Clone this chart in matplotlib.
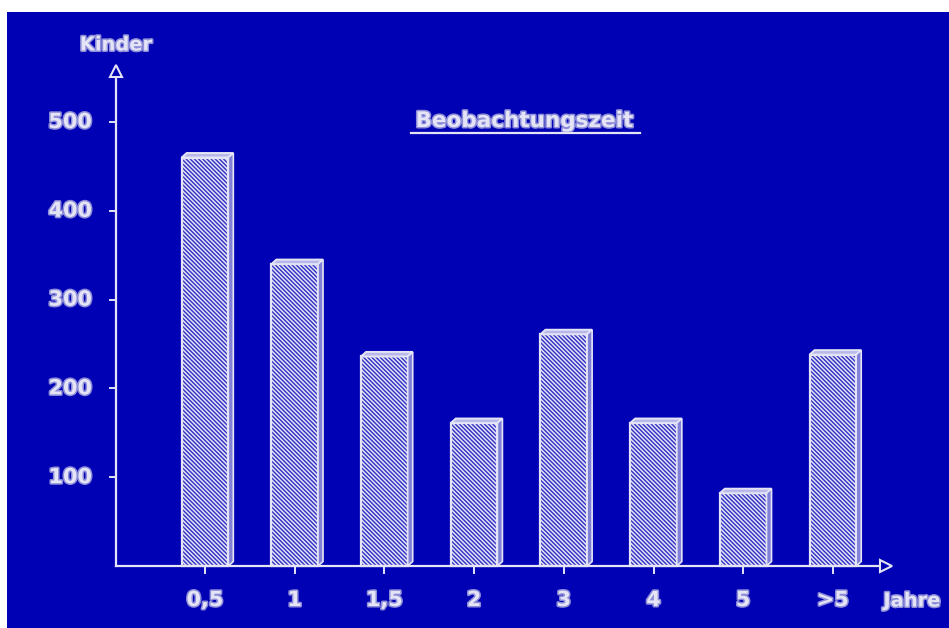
import matplotlib.pyplot as plt
from matplotlib.patches import Rectangle, Polygon
import matplotlib.patheffects as pe

# children per observation period
categories = ["0,5", "1", "1,5", "2", "3", "4", "5", ">5"]
kinder     = [460, 340, 236, 161, 261, 161, 82, 238]
yticks     = [100, 200, 300, 400, 500]

BLUE  = "#0000b4"
LIGHT = "#e4e4f6"

# pixel layout of the slide
W, H   = 949, 628
X0, PX = 205, 89.7      # first category position, px per category
Y0, PY = 566, 0.888     # baseline, px per child

fig = plt.figure(figsize=(W / 100, H / 100), dpi=100, facecolor="white")
ax = fig.add_axes([0, 0, 1, 1])
ax.set_xlim(-X0 / PX, (W - X0) / PX)
ax.set_ylim((Y0 - H) / PY, Y0 / PY)
ax.axis("off")
ax.add_patch(Rectangle((7 / W, 0), 1, (H - 12) / H, transform=ax.transAxes,
                       facecolor=BLUE, edgecolor="none", zorder=0))

plt.rcParams["hatch.color"] = "#d0d0f0"
plt.rcParams["hatch.linewidth"] = 1.1
glow = [pe.withStroke(linewidth=2.2, foreground="#8c8cd8")]
txt = dict(color=LIGHT, fontweight="bold", path_effects=glow)

# bars with a small 3d top and side
w  = 0.52
dx = 5 / PX
dy = 4.5 / PY
for i, v in enumerate(kinder):
    l, r = i - w / 2, i + w / 2
    ax.add_patch(Rectangle((l, 0), w, v, facecolor="#3030c4", edgecolor=LIGHT,
                           hatch="\\" * 8, lw=1.6, zorder=3))
    ax.add_patch(Polygon([(l, v), (l + dx, v + dy), (r + dx, v + dy), (r, v)],
                         facecolor="#b8b8ea", edgecolor=LIGHT, lw=1.4, zorder=3))
    ax.add_patch(Polygon([(r, 0), (r + dx, dy), (r + dx, v + dy), (r, v)],
                         facecolor="#8080d8", edgecolor=LIGHT, lw=1.2, zorder=3))

# axes with open arrowheads
xa = (116 - X0) / PX
ax.plot([xa, xa], [0, (Y0 - 77) / PY], color=LIGHT, lw=1.6, zorder=4)
ax.plot(xa, (Y0 - 71) / PY, marker="^", ms=9, mfc=BLUE, mec=LIGHT, mew=1.5, zorder=5)
ax.plot([xa, (880 - X0) / PX], [0, 0], color=LIGHT, lw=1.6, zorder=4)
ax.plot((886 - X0) / PX, 0, marker=">", ms=9, mfc=BLUE, mec=LIGHT, mew=1.5, zorder=5)

for t in yticks:
    ax.plot([xa - 6 / PX, xa], [t, t], color=LIGHT, lw=1.4, zorder=4)
    ax.text((92 - X0) / PX, t, str(t), ha="right", va="center", fontsize=15, **txt)

for i, c in enumerate(categories):
    ax.plot([i, i], [0, -7 / PY], color=LIGHT, lw=1.4, zorder=4)
    ax.text(i, -34 / PY, c, ha="center", va="center", fontsize=15, **txt)

ax.text(xa, (Y0 - 45) / PY, "Kinder", ha="center", va="center", fontsize=14, **txt)
ax.text((912 - X0) / PX, -35 / PY, "Jahre", ha="center", va="center", fontsize=14, **txt)

ax.text((524 - X0) / PX, (Y0 - 121) / PY, "Beobachtungszeit", ha="center",
        va="center", fontsize=15.5, **txt)
ax.plot([(411 - X0) / PX, (640 - X0) / PX], [(Y0 - 133) / PY] * 2,
        color=LIGHT, lw=1.6, zorder=4)

fig.savefig("out.png", dpi=100, facecolor="white")
